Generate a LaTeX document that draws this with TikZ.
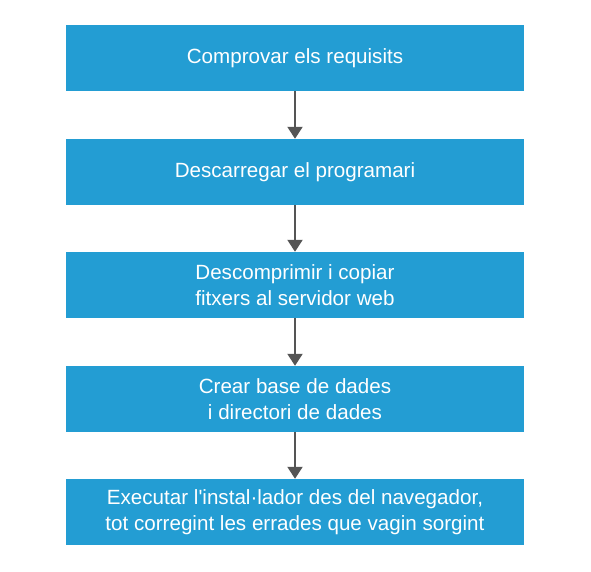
\documentclass[tikz,border=0pt]{standalone}
\usepackage{fontspec}
\setmainfont{Liberation Sans}[Ligatures=TeXOff]
\usetikzlibrary{arrows.meta}
\definecolor{boxblue}{HTML}{239DD3}
\definecolor{arrowgray}{HTML}{555555}
\tikzset{
  stepbox/.style={fill=boxblue, draw=none, minimum width=458pt, minimum height=66pt,
    text=white, align=center, inner sep=0pt,
    font=\fontsize{20.6}{25.5}\selectfont},
  flow/.style={draw=arrowgray, line width=2pt, -{Triangle[length=12pt,width=15pt]}}
}
\begin{document}
\begin{tikzpicture}[x=1pt,y=-1pt]
\useasboundingbox (0,0) rectangle (591,572);
\node[stepbox] (s1) at (295,58) {Comprovar els requisits};
\node[stepbox] (s2) at (295,172) {Descarregar el programari};
\node[stepbox] (s3) at (295,285) {Descomprimir i copiar\\fitxers al servidor web};
\node[stepbox] (s4) at (295,399) {Crear base de dades\\i directori de dades};
\node[stepbox] (s5) at (295,512) {Executar l'instal·lador des del navegador,\\tot corregint les errades que vagin sorgint};
\draw[flow] (s1) -- (s2);
\draw[flow] (s2) -- (s3);
\draw[flow] (s3) -- (s4);
\draw[flow] (s4) -- (s5);
\end{tikzpicture}
\end{document}
